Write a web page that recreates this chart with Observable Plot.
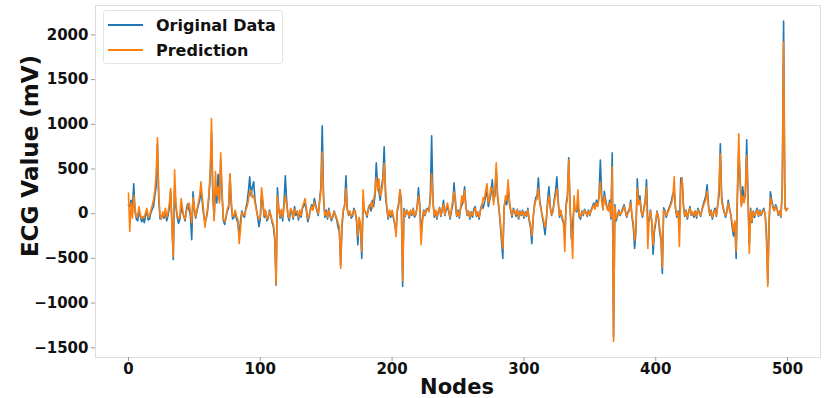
<!DOCTYPE html>
<html><head><meta charset="utf-8">
<script src="https://cdn.jsdelivr.net/npm/d3@7"></script>
<script src="https://cdn.jsdelivr.net/npm/@observablehq/plot@0.6"></script>
<style>
body{margin:0;background:#fff;font-family:"DejaVu Sans",sans-serif;}
#wrap{position:relative;width:827px;height:398px;overflow:hidden;}
.legend{position:absolute;left:103px;top:10px;width:178px;height:52px;border:1px solid #e4e4e4;border-radius:3px;background:rgba(255,255,255,0.85);font-weight:bold;font-size:16px;color:#111;}
.item{position:absolute;left:4px;height:20px;display:flex;align-items:center;}
.item .sw{width:35px;height:2px;margin-right:13px;}
.ylab{position:absolute;left:30px;top:156px;transform:translate(-50%,-50%) rotate(-90deg);white-space:nowrap;font-weight:bold;font-size:23px;color:#111;}
.xlab{position:absolute;left:457px;top:387px;transform:translate(-50%,-50%);white-space:nowrap;font-weight:bold;font-size:21px;color:#111;}
</style></head>
<body><div id="wrap"></div>
<script>
const seriesNames = ["Original Data", "Prediction"];
const seriesColors = ["#1f77b4", "#ff7f0e"];
const xTicks = [0, 100, 200, 300, 400, 500];
const yTicks = [-1500, -1000, -500, 0, 500, 1000, 1500, 2000];
const xLabel = "Nodes";
const yLabel = "ECG Value (mV)";

const original = [
100, 80, 150, 60, 335, 20, -60, -80, 40, -30,
-90, -50, -100, -20, 30, -70, -60, 10, 50, 80,
200, 300, 780, 150, -60, -40, -10, -50, 30, -80,
-20, 60, 250, -100, -513, 300, 80, -40, -110, -60,
70, 20, -30, -80, 60, 110, 40, -20, -290, 245,
40, -50, 30, 90, 150, 250, 130, -10, -100, -60,
30, 180, 400, 900, 200, -60, 300, 120, 440, 150,
600, 200, -80, -120, -40, 30, 60, 440, 100, -60,
-40, 20, -60, -100, -250, -80, 30, -20, -40, 60,
120, 250, 413, 200, 300, 357, 150, 60, -40, -145,
-60, 212, 100, -40, 20, -80, -50, 40, -30, -100,
-150, -300, -800, 290, 60, -50, 30, -80, 120, 424,
150, -30, -80, 40, 10, -60, 80, -20, 30, -70,
20, -40, 60, 90, 120, 30, -90, -40, 50, 100,
60, 170, 100, 30, -20, 150, 300, 982, 200, -40,
40, -60, 60, -30, -80, -40, 30, -20, -70, -150,
-200, -580, -150, 30, 100, 424, 60, -20, 20, -50,
-30, 60, 20, -80, -346, -60, -150, -500, 80, 40,
10, -40, 60, 100, 30, 150, 80, 200, 570, 300,
250, 150, 300, 400, 748, 200, 60, -60, 30, -40,
20, -50, -120, -200, 30, 100, 268, 150, -815, 56,
-30, 40, 10, -50, 30, -20, 60, -40, -10, 80,
290, 100, -250, -60, 40, -20, 50, 60, 30, 200,
870, 150, -40, 30, -60, 20, 70, -30, 40, 150,
-20, 40, 80, 20, -60, 30, 100, 346, 120, -30,
40, -50, 60, 100, 150, 300, 80, -20, 30, -60,
20, -40, 50, 80, -30, 10, -60, 40, 100, 60,
120, 200, 250, 80, 150, 220, 380, 150, 200, 500,
180, 60, -100, -300, -500, 80, 150, 100, 300, 120,
30, -40, 60, 20, -30, 50, -60, 30, -20, 40,
-50, 20, -30, 60, -80, -150, -335, -60, 100, 180,
200, 400, 150, 60, -40, -120, -235, -80, 150, 300,
80, -20, 30, 150, 250, 413, 150, -40, 30, -60,
-100, -250, 110, 200, 625, 100, -280, -100, 60, 40,
20, 100, -40, -60, 30, -20, 50, 20, -30, 40,
-20, 40, 80, 120, 60, 150, 100, 200, 600, 200,
50, 250, 150, 80, 40, 150, -60, 680, -1380, 100,
-80, -30, 40, -20, 20, 60, 100, 30, -40, 20,
50, 150, -40, -150, -390, -200, 390, 120, 200, 30,
-40, 60, 150, 380, -100, -80, 40, -100, -457, -200,
-100, 30, -50, -200, -300, -670, 67, 30, -40, 20,
60, 100, 150, 223, 250, 60, -40, 30, -150, 400,
400, 100, -30, 40, -60, 20, 80, -20, 10, -40,
30, -50, 60, 20, -30, 40, 100, 150, 200, 324,
100, -20, 40, -60, 20, 60, -30, 100, 200, 781,
200, 80, 20, -40, 30, 150, 60, -20, -150, -250,
-100, -500, 200, 700, 400, 100, 300, 150, 200, 826,
200, -350, 60, -100, 30, -40, 20, 60, -30, 40,
-20, 30, 60, -10, -200, -780, -100, 245, 150, 80,
40, 100, 60, -20, 30, -40, 300, 2154, 80, 40,
56
];

const prediction = [
230, -200, 120, -50, 200, 60, -40, -20, 80, -10,
-60, -30, -40, 10, 60, -40, -20, 40, 90, 150,
260, 420, 848, 200, -20, -60, 20, -30, 60, -40,
20, 100, 280, -150, -480, 490, 120, -20, -60, -30,
170, 60, -40, -60, 30, 80, 120, 20, -100, 180,
60, -30, 50, 120, 200, 357, 180, 40, -150, -40,
60, 220, 450, 1065, 280, -80, 470, 200, 300, 120,
680, 260, -60, -90, -30, 50, 90, 446, 150, -30,
-20, 40, -30, -60, -335, -180, 10, 0, -20, 40,
80, 150, 250, 260, 180, 200, 120, 40, -20, -60,
-40, 290, 150, -20, 40, -60, -30, 20, -10, -80,
-120, -250, -792, 200, 40, -30, 50, -40, 80, 200,
100, -10, -50, 60, 30, -40, 50, 10, 20, -40,
40, -20, 80, 120, 170, 60, -60, -20, 30, 80,
40, 130, 80, 50, 0, 120, 250, 690, 150, -20,
20, -40, 40, -10, -60, -30, 20, -10, -50, -100,
-150, -613, -100, 50, 80, 280, 40, -10, 30, -30,
-10, 40, 30, -60, -250, -40, -120, -420, 268, 30,
20, -20, 40, 80, 120, 60, 150, 250, 400, 260,
390, 200, 240, 350, 560, 300, 80, -40, 40, -20,
40, -30, -100, -257, 60, 120, 268, 100, -750, 40,
-20, 30, 20, -30, 40, -10, 50, -20, 0, 60,
200, 80, -346, -100, 30, -10, 40, 50, 20, 150,
446, 120, -20, 40, -40, 30, 60, -20, 50, 100,
-10, 60, 120, 40, -40, 50, 150, 245, 180, -20,
20, -30, 80, 200, 120, 260, 60, -10, 20, -40,
10, -20, 30, 60, -20, 20, -40, 30, 80, 180,
150, 260, 335, 120, 180, 300, 280, 100, 250, 570,
220, 80, -80, -250, -390, 60, 200, 150, 380, 150,
40, -20, 40, 30, -10, 40, -40, 20, -10, 30,
-30, 10, -20, 40, -60, -120, -250, -40, 80, 150,
160, 290, 120, 40, -20, -80, -150, -60, 100, 200,
60, -10, 20, 120, 200, 280, 120, -20, 40, -40,
-80, -424, 90, 150, 600, 80, -200, -500, 200, 30,
40, 268, -20, -40, 20, -10, 40, 10, -20, 30,
-10, 30, 60, 100, 50, 120, 80, 180, 357, 150,
40, 200, 120, 60, 30, 120, -40, 525, -1430, 80,
-60, -20, 30, -10, 10, 40, 80, 20, -30, 10,
30, 120, -20, -100, -300, -150, 290, 100, 150, 20,
-20, 40, 120, 300, -390, -60, 30, -80, -350, -150,
-80, 20, -30, -150, -250, -600, 40, 20, -20, 10,
40, 80, 120, 180, 413, 50, -20, 20, -368, 300,
400, 80, -20, 30, -40, 10, 60, -10, 20, -20,
20, -30, 40, 10, -20, 30, 80, 120, 160, 250,
80, -10, 30, -40, 10, 40, -20, 80, 300, 670,
150, 60, 10, -20, 20, 120, 40, -10, -100, -200,
-80, -420, 300, 893, 350, 80, 200, 120, 250, 650,
150, -446, 40, -80, 20, -20, 10, 40, -20, 30,
-10, 20, 40, 0, -300, -815, -80, 180, 120, 60,
30, 80, 50, -10, 20, -30, 250, 1920, 60, 30,
60
];

const fmt = d => (d < 0 ? "\u2212" + (-d) : String(d));

const plot = Plot.plot({
  width: 827,
  height: 398,
  marginLeft: 95,
  marginRight: 7,
  marginTop: 5,
  marginBottom: 41,
  style: {fontFamily: "DejaVu Sans", fontSize: "15px", fontWeight: "bold", color: "#111", background: "white"},
  x: {domain: [-25, 525]},
  y: {domain: [-1609, 2329]},
  marks: [
    Plot.frame({stroke: "#dddddd"}),
    Plot.axisX({ticks: xTicks, tickFormat: fmt, tickSize: 4, tickPadding: 2, label: null, stroke: "#999"}),
    Plot.axisY({ticks: yTicks, tickFormat: fmt, tickSize: 4, tickPadding: 3, label: null, stroke: "#999"}),
    Plot.lineY(original, {stroke: seriesColors[0], strokeWidth: 1.6}),
    Plot.lineY(prediction, {stroke: seriesColors[1], strokeWidth: 1.6})
  ]
});
const wrap = document.getElementById("wrap");
wrap.appendChild(plot);

const leg = document.createElement("div");
leg.className = "legend";
seriesNames.forEach((n, i) => {
  const it = document.createElement("div");
  it.className = "item";
  it.style.top = (4 + i * 25) + "px";
  const sw = document.createElement("span");
  sw.className = "sw";
  sw.style.background = seriesColors[i];
  const t = document.createElement("span");
  t.textContent = n;
  it.appendChild(sw); it.appendChild(t);
  leg.appendChild(it);
});
wrap.appendChild(leg);

const yl = document.createElement("div");
yl.className = "ylab"; yl.textContent = yLabel; wrap.appendChild(yl);
const xl = document.createElement("div");
xl.className = "xlab"; xl.textContent = xLabel; wrap.appendChild(xl);
</script>
</body></html>
